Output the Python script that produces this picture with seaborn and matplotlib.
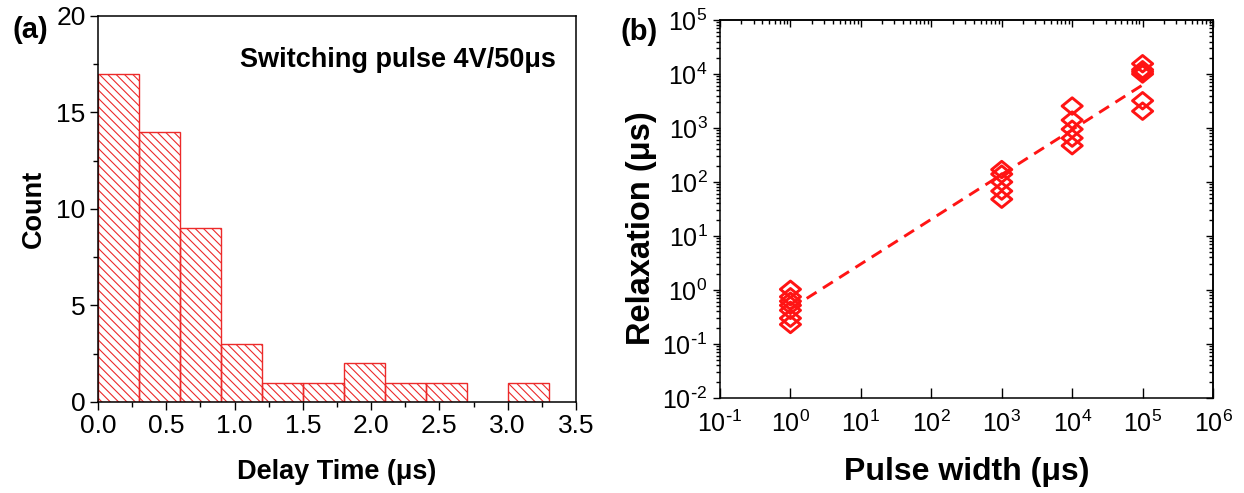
import numpy as np
import pandas as pd
import matplotlib
matplotlib.use("Agg")
import matplotlib.pyplot as plt
import matplotlib.ticker as mticker
from matplotlib.path import Path
import seaborn as sns

# ── data ──────────────────────────────────────────────────────────────────────
# (a) delay-time histogram, 0.3 µs bins
delay_bin_left = [0.0, 0.3, 0.6, 0.9, 1.2, 1.5, 1.8, 2.1, 2.4, 2.7, 3.0]
delay_counts = [17, 14, 9, 3, 1, 1, 2, 1, 1, 0, 1]
bin_width = 0.3

# (b) relaxation time vs pulse width (µs)
pulse_widths = [1, 1e3, 1e4, 1e5]
relax_pw_1 = [1.03, 0.75, 0.62, 0.52, 0.42, 0.30, 0.23]
relax_pw_1e3 = [170, 140, 100, 68, 48]
relax_pw_1e4 = [2550, 1400, 950, 650, 470]
relax_pw_1e5 = [15500, 12000, 11000, 10000, 3200, 2050]

RED = "#ff1414"
BAR_RED = "#ec2a2a"

sns.set_theme(style="ticks")
plt.rcParams.update({
    "font.family": ["Liberation Sans", "DejaVu Sans"],
    "mathtext.default": "regular",
    "axes.unicode_minus": False,
    "axes.edgecolor": "black",
    "axes.linewidth": 1.1,
    "hatch.linewidth": 0.8,
    "xtick.color": "black",
    "ytick.color": "black",
    "text.color": "black",
    "axes.labelcolor": "black",
})


def _pow10(val, pos=None):
    exp = int(round(np.log10(val)))
    if exp < 0:
        return r"$10^{\text{-}%d}$" % abs(exp)
    return r"$10^{%d}$" % exp


fig = plt.figure(figsize=(12.44, 4.93), dpi=100)
ax_a = fig.add_axes([0.0788, 0.1846, 0.3842, 0.783])
ax_b = fig.add_axes([0.5788, 0.1927, 0.3963, 0.7667])

# ── (a) histogram ─────────────────────────────────────────────────────────────
hist_df = pd.DataFrame({
    "delay": np.array(delay_bin_left) + bin_width / 2,
    "count": delay_counts,
})
edges = [round(b, 2) for b in delay_bin_left] + [round(delay_bin_left[-1] + bin_width, 2)]
sns.histplot(data=hist_df, x="delay", weights="count", bins=edges, ax=ax_a, color=BAR_RED)
for p in ax_a.patches:
    if p.get_height() == 0:
        p.set_visible(False)
        continue
    p.set_facecolor("none")
    p.set_edgecolor(BAR_RED)
    p.set_hatch("\\\\\\\\")
    p.set_linewidth(1.0)

ax_a.set_xlim(0, 3.5)
ax_a.set_ylim(0, 20)
ax_a.xaxis.set_major_locator(mticker.MultipleLocator(0.5))
ax_a.xaxis.set_minor_locator(mticker.MultipleLocator(0.25))
ax_a.yaxis.set_major_locator(mticker.MultipleLocator(5))
ax_a.yaxis.set_minor_locator(mticker.MultipleLocator(2.5))
ax_a.xaxis.set_major_formatter(mticker.FormatStrFormatter("%.1f"))
ax_a.tick_params(which="both", direction="out", top=False, right=False,
                 width=1.0, labelsize=19, pad=3)
ax_a.tick_params(which="major", length=6)
ax_a.tick_params(which="minor", length=3.5)
ax_a.set_xlabel("Delay Time (μs)", fontsize=19.5, fontweight="bold")
ax_a.set_ylabel("Count", fontsize=19.5, fontweight="bold")
ax_a.xaxis.set_label_coords(0.5, -0.148)
ax_a.yaxis.set_label_coords(-0.106, 0.5)
ax_a.text(0.297, 0.868, "Switching pulse 4V/50μs", transform=ax_a.transAxes,
          fontsize=19.5, fontweight="bold", va="baseline", ha="left")

# ── (b) relaxation vs pulse width ─────────────────────────────────────────────
groups = [relax_pw_1, relax_pw_1e3, relax_pw_1e4, relax_pw_1e5]
df = pd.DataFrame({
    "pulse": np.concatenate([[pw] * len(g) for pw, g in zip(pulse_widths, groups)]),
    "relax": np.concatenate(groups),
})

# power-law fit in log-log space
slope, icpt = np.polyfit(np.log10(df["pulse"]), np.log10(df["relax"]), 1)
fit_x = np.array([min(pulse_widths), max(pulse_widths)])
fit_y = 10 ** (icpt + slope * np.log10(fit_x))
ax_b.plot(fit_x, fit_y, color=RED, linestyle=(0, (4.0, 2.6)), linewidth=2.1, zorder=2)

diamond = Path([(-1, 0), (0, 0.82), (1, 0), (0, -0.82), (-1, 0)],
               [Path.MOVETO, Path.LINETO, Path.LINETO, Path.LINETO, Path.CLOSEPOLY])
sns.scatterplot(data=df, x="pulse", y="relax", ax=ax_b, marker=diamond, s=210,
                facecolor="none", edgecolor=RED, linewidth=2.1, zorder=3)

ax_b.set_xscale("log")
ax_b.set_yscale("log")
ax_b.set_xlim(1e-1, 1e6)
ax_b.set_ylim(1e-2, 1e5)
ax_b.xaxis.set_major_locator(mticker.LogLocator(base=10, numticks=20))
ax_b.xaxis.set_minor_locator(mticker.NullLocator())
ax_b.yaxis.set_major_locator(mticker.LogLocator(base=10, numticks=20))
ax_b.yaxis.set_minor_locator(mticker.LogLocator(base=10, subs=np.arange(2, 10), numticks=20))
ax_b.xaxis.set_major_formatter(mticker.FuncFormatter(_pow10))
ax_b.yaxis.set_major_formatter(mticker.FuncFormatter(_pow10))
ax_b.yaxis.set_minor_formatter(mticker.NullFormatter())
ax_b.tick_params(axis="x", which="major", direction="in", length=7, width=1.0,
                 top=False, labelsize=18, pad=9)
ax_b.tick_params(axis="y", which="both", direction="out", right=False, width=1.0,
                 labelsize=18, pad=4)
ax_b.tick_params(axis="y", which="major", length=5)
ax_b.tick_params(axis="y", which="minor", length=3)

# inward ticks on top and right
sec_top = ax_b.secondary_xaxis("top")
sec_top.xaxis.set_major_locator(mticker.LogLocator(base=10, numticks=20))
sec_top.xaxis.set_minor_locator(mticker.LogLocator(base=10, subs=np.arange(2, 10), numticks=20))
sec_top.tick_params(which="both", direction="in", labeltop=False, width=1.0)
sec_top.tick_params(which="major", length=5)
sec_top.tick_params(which="minor", length=3)
sec_right = ax_b.secondary_yaxis("right")
sec_right.yaxis.set_major_locator(mticker.LogLocator(base=10, numticks=20))
sec_right.yaxis.set_minor_locator(mticker.LogLocator(base=10, subs=np.arange(2, 10), numticks=20))
sec_right.tick_params(which="both", direction="in", labelright=False, width=1.0)
sec_right.tick_params(which="major", length=5)
sec_right.tick_params(which="minor", length=3)

ax_b.set_xlabel("Pulse width (μs)", fontsize=23, fontweight="bold")
ax_b.set_ylabel("Relaxation (μs)", fontsize=23.5, fontweight="bold")
ax_b.xaxis.set_label_coords(0.5, -0.155)
ax_b.yaxis.set_label_coords(-0.128, 0.45)

fig.text(12 / 1244, 1 - 30 / 493, "(a)", fontsize=21, fontweight="bold", va="center", ha="left")
fig.text(620 / 1244, 1 - 32 / 493, "(b)", fontsize=21, fontweight="bold", va="center", ha="left")

fig.savefig("out.png", dpi=100)
